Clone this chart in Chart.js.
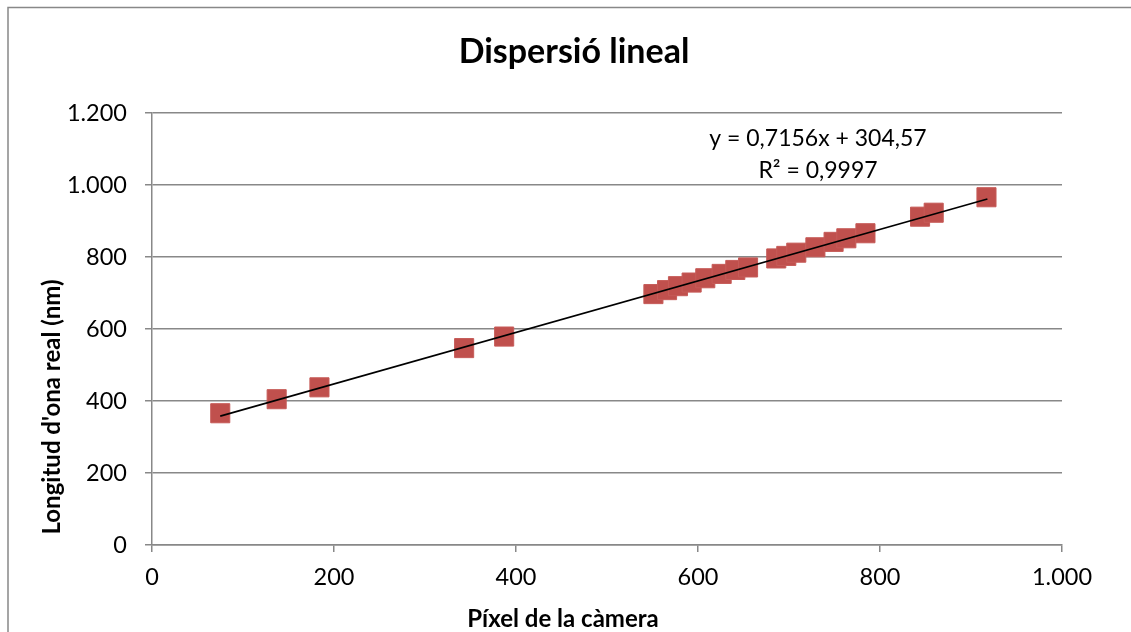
<!DOCTYPE html>
<html>
<head>
<meta charset="utf-8">
<script src="https://cdn.jsdelivr.net/npm/chart.js@4.4.0/dist/chart.umd.min.js"></script>
<style>
  body { margin: 0; background: #fff; }
  canvas { display: block; }
</style>
</head>
<body>
<canvas id="chart" width="1131" height="632"></canvas>
<script>
// dades llegides del gràfic
const pixelX = [75, 137, 184, 343, 387, 551, 566, 578, 593, 608, 626, 641, 655, 686, 697, 708, 729, 749, 763, 784, 844, 859, 917];
const wavelength = [366, 405, 438, 547, 579, 697, 708, 719, 729, 741, 753, 764, 771, 796, 803, 812, 827, 842, 852, 866, 912, 923, 966];

// línia de tendència (extrems)
const trendX = [75, 918];
const trendY = [358, 961];

const xTicks = [0, 200, 400, 600, 800, 1000];
const yTicks = [0, 200, 400, 600, 800, 1000, 1200];

const chartTitle = "Dispersió lineal";
const xTitle = "Píxel de la càmera";
const yTitle = "Longitud d'ona real (nm)";
const equation = ["y = 0,7156x + 304,57", "R² = 0,9997"];

const FONT = "Lato, 'Open Sans', sans-serif";
const GRID = "#888888";

const fmt = v => String(v).replace(/\B(?=(\d{3})+(?!\d))/g, ".");

const decor = {
  id: "decor",
  beforeDraw(chart) {
    const ctx = chart.ctx;
    ctx.save();
    ctx.fillStyle = "#fff";
    ctx.fillRect(0, 0, chart.width, chart.height);
    ctx.strokeStyle = GRID;
    ctx.lineWidth = 1.5;
    ctx.beginPath();
    ctx.moveTo(8, chart.height);
    ctx.lineTo(8, 7.5);
    ctx.lineTo(chart.width, 7.5);
    ctx.stroke();
    ctx.restore();
  },
  afterDraw(chart) {
    const ctx = chart.ctx;
    ctx.save();
    ctx.fillStyle = "#000";
    ctx.textAlign = "center";
    ctx.textBaseline = "alphabetic";

    ctx.font = "bold 34px " + FONT;
    ctx.fillText(chartTitle, 574, 63);

    ctx.font = "bold 24px " + FONT;
    ctx.fillText(xTitle, 563, 627);

    ctx.save();
    ctx.translate(60, 407);
    ctx.rotate(-Math.PI / 2);
    ctx.fillText(yTitle, 0, 0);
    ctx.restore();

    ctx.font = "23px " + FONT;
    ctx.fillText(equation[0], 818, 146);
    ctx.fillText(equation[1], 818, 178);
    ctx.restore();
  }
};

new Chart(document.getElementById("chart"), {
  type: "scatter",
  data: {
    datasets: [
      {
        label: "Longitud d'ona",
        data: pixelX.map((x, i) => ({ x, y: wavelength[i] })),
        backgroundColor: "#C0504D",
        borderColor: "#C65B58",
        borderWidth: 1,
        pointStyle: "rect",
        pointRadius: 13.5,
        order: 2
      },
      {
        label: "Lineal",
        type: "line",
        data: trendX.map((x, i) => ({ x, y: trendY[i] })),
        borderColor: "#000",
        borderWidth: 1.6,
        pointRadius: 0,
        fill: false,
        order: 1
      }
    ]
  },
  options: {
    responsive: false,
    animation: false,
    layout: { padding: { top: 113, right: 69, left: 0, bottom: 0 } },
    plugins: {
      legend: { display: false },
      tooltip: { enabled: false },
      title: { display: false }
    },
    scales: {
      x: {
        type: "linear",
        min: 0,
        max: 1000,
        afterFit(scale) { scale.height = 87; },
        afterBuildTicks(scale) { scale.ticks = xTicks.map(v => ({ value: v })); },
        grid: { drawOnChartArea: false, drawTicks: true, tickLength: 7, color: GRID, lineWidth: 1.5 },
        border: { display: true, color: GRID, width: 1.5 },
        ticks: { callback: fmt, color: "#000", padding: 11, maxRotation: 0, font: { family: FONT, size: 23.5 } }
      },
      y: {
        type: "linear",
        min: 0,
        max: 1200,
        afterFit(scale) { scale.width = 152; },
        afterBuildTicks(scale) { scale.ticks = yTicks.map(v => ({ value: v })); },
        grid: { drawOnChartArea: true, drawTicks: true, tickLength: 7, color: GRID, lineWidth: 1.5 },
        border: { display: true, color: GRID, width: 1.5 },
        ticks: { callback: fmt, color: "#000", padding: 18, font: { family: FONT, size: 23.5 } }
      }
    }
  },
  plugins: [decor]
});
</script>
</body>
</html>
